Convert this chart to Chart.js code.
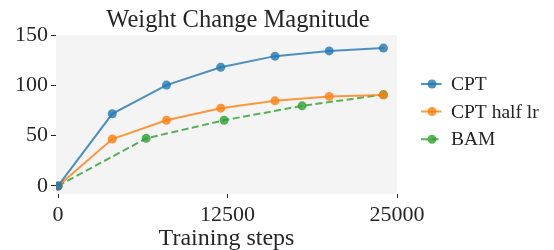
<!DOCTYPE html>
<html>
<head>
<meta charset="utf-8">
<script src="https://cdn.jsdelivr.net/npm/chart.js@4.4.1/dist/chart.umd.min.js"></script>
<style>
  html, body { margin: 0; padding: 0; background: #fff; }
  #wrap { width: 554px; height: 250px; }
</style>
</head>
<body>
<div id="wrap"><canvas id="chart" width="554" height="250"></canvas></div>
<script>
// values
const cptSteps = [0, 4000, 8000, 12000, 16000, 20000, 24000];
const cptValues = [0, 71.7, 100.2, 118, 129, 134.2, 137];
const halfLrSteps = [0, 4000, 8000, 12000, 16000, 20000, 24000];
const halfLrValues = [0, 46.6, 65.3, 77.3, 84.6, 89, 90.3];
const bamSteps = [0, 6500, 12250, 18000, 24000];
const bamValues = [0, 47.3, 65.3, 79.6, 90.8];

const xTicks = [0, 12500, 25000];
const yTicks = [0, 50, 100, 150];

const FONT = "'Liberation Serif', 'DejaVu Serif', serif";
const TEXT = '#262626';

function toPoints(xs, ys) {
  return xs.map((x, i) => ({ x, y: ys[i] }));
}

function series(label, xs, ys, color, dash) {
  return {
    label,
    data: toPoints(xs, ys),
    borderColor: color,
    backgroundColor: color,
    pointBackgroundColor: color,
    pointBorderWidth: 0,
    pointRadius: 4.5,
    pointHoverRadius: 4.5,
    borderWidth: 2,
    borderDash: dash,
    tension: 0
  };
}

const decorations = {
  id: 'decorations',
  beforeDraw(chart) {
    const { ctx, chartArea: a } = chart;
    ctx.save();
    ctx.fillStyle = '#f4f4f4';
    ctx.fillRect(a.left, a.top, a.right - a.left, a.bottom - a.top);
    ctx.restore();
  },
  afterDraw(chart) {
    const { ctx, chartArea: a } = chart;
    ctx.save();
    ctx.fillStyle = TEXT;
    ctx.textAlign = 'center';
    ctx.textBaseline = 'alphabetic';
    ctx.font = `24.5px ${FONT}`;
    ctx.fillText('Weight Change Magnitude', 238, 27);
    ctx.font = `24px ${FONT}`;
    ctx.fillText('Training steps', (a.left + a.right) / 2, 245);

    // legend: line with a marker in the middle
    const rows = [84, 111.5, 139.3];
    ctx.font = `19.5px ${FONT}`;
    ctx.textAlign = 'left';
    ctx.textBaseline = 'middle';
    chart.data.datasets.forEach((ds, i) => {
      const y = rows[i];
      ctx.strokeStyle = ds.borderColor;
      ctx.lineWidth = 2;
      ctx.setLineDash(ds.borderDash || []);
      ctx.beginPath();
      ctx.moveTo(421, y);
      ctx.lineTo(441.5, y);
      ctx.stroke();
      ctx.setLineDash([]);
      ctx.fillStyle = ds.pointBackgroundColor;
      ctx.beginPath();
      ctx.arc(432, y, 4.5, 0, Math.PI * 2);
      ctx.fill();
      ctx.fillStyle = TEXT;
      ctx.fillText(ds.label, 451, y + 1);
    });
    ctx.restore();
  }
};

new Chart(document.getElementById('chart'), {
  type: 'line',
  data: {
    datasets: [
      series('CPT', cptSteps, cptValues, 'rgba(31,119,180,0.8)', []),
      series('CPT half lr', halfLrSteps, halfLrValues, 'rgba(255,127,14,0.8)', []),
      series('BAM', bamSteps, bamValues, 'rgba(44,160,44,0.8)', [7, 3.5])
    ]
  },
  options: {
    responsive: false,
    animation: false,
    devicePixelRatio: 1,
    layout: { padding: { left: 0, right: 157, top: 35, bottom: 0 } },
    plugins: {
      legend: { display: false },
      tooltip: { enabled: false },
      title: { display: false }
    },
    scales: {
      x: {
        type: 'linear',
        min: -150,
        max: 25000,
        afterBuildTicks(scale) { scale.ticks = xTicks.map((v) => ({ value: v })); },
        afterFit(scale) { scale.height = 56; },
        border: { display: false },
        grid: { drawOnChartArea: false, drawTicks: true, tickLength: 4, color: TEXT, lineWidth: 1 },
        ticks: {
          color: TEXT,
          padding: 4,
          maxRotation: 0,
          font: { family: FONT, size: 22 },
          callback: (v) => String(v)
        }
      },
      y: {
        type: 'linear',
        min: -8,
        max: 150,
        afterBuildTicks(scale) { scale.ticks = yTicks.map((v) => ({ value: v })); },
        afterFit(scale) { scale.width = 56; },
        border: { display: false },
        grid: { drawOnChartArea: false, drawTicks: true, tickLength: 5, color: TEXT, lineWidth: 1 },
        ticks: {
          color: TEXT,
          padding: 3,
          font: { family: FONT, size: 22 },
          callback: (v) => String(v)
        }
      }
    }
  },
  plugins: [decorations]
});
</script>
</body>
</html>
